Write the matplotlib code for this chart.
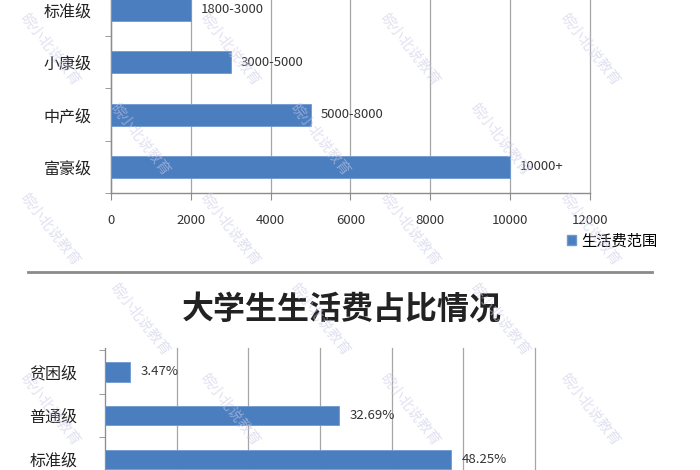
import matplotlib
matplotlib.use("Agg")
import matplotlib.pyplot as plt
from matplotlib.patches import Patch
from matplotlib.lines import Line2D

plt.rcParams['font.family'] = ['Noto Sans CJK SC', 'DejaVu Sans']

# ---- data ----
top_categories = ['标准级', '小康级', '中产级', '富豪级']
top_values = [2000, 3000, 5000, 10000]
top_labels = ['1800-3000', '3000-5000', '5000-8000', '10000+']
top_ticks = [0, 2000, 4000, 6000, 8000, 10000, 12000]
legend_label = '生活费范围'

bottom_title = '大学生生活费占比情况'
bottom_categories = ['贫困级', '普通级', '标准级']
bottom_values = [3.47, 32.69, 48.25]
bottom_ticks = [0, 10, 20, 30, 40, 50, 60]

watermark = '皖小北说教育'

BAR = '#4a7ebf'
GRID = '#a6a6a6'
AX = '#8c8c8c'
W, H = 700, 470

fig = plt.figure(figsize=(7, 4.7), dpi=100)
fig.patch.set_facecolor('white')

def fx(x):
    return x / W

def fy(y):
    return 1 - y / H

# ---- top chart ----
ax1 = fig.add_axes([fx(111), fy(193), fx(590) - fx(111), 193 / H])
pos1 = list(range(len(top_categories)))[::-1]
ax1.barh(pos1, top_values, height=0.42, color=BAR, edgecolor='#6f9ad0', linewidth=0.6, zorder=3)
for p, v, lab in zip(pos1, top_values, top_labels):
    ax1.text(v + 250, p, lab, va='center', ha='left', fontsize=9.5, color='#333333')
ax1.set_xlim(0, 12000)
ax1.set_ylim(-0.5, 3.19)
ax1.set_xticks(top_ticks)
ax1.set_xticklabels([str(t) for t in top_ticks], fontsize=9.5, color='#333333')
ax1.set_yticks(pos1)
ax1.set_yticklabels(top_categories, fontsize=11.5, color='#222222')
ax1.set_yticks([-0.5, 0.5, 1.5, 2.5], minor=True)
ax1.tick_params(axis='y', which='major', length=0, pad=14)
ax1.tick_params(axis='y', which='minor', length=4, color=AX)
ax1.tick_params(axis='x', length=5, color=AX, pad=10)
ax1.grid(axis='x', color=GRID, linewidth=0.9, zorder=0)
for gl in ax1.get_xgridlines():
    gl.set_clip_on(False)
for s in ['top', 'right']:
    ax1.spines[s].set_visible(False)
for s in ['left', 'bottom']:
    ax1.spines[s].set_color(AX)
    ax1.spines[s].set_linewidth(1.0)

fig.legend(handles=[Patch(facecolor=BAR, edgecolor='#6f9ad0')], labels=[legend_label],
           loc='center left', bbox_to_anchor=(fx(553), fy(241)), frameon=False,
           handlelength=0.6, handleheight=0.6, handletextpad=0.35, fontsize=11)

# separator
fig.add_artist(Line2D([fx(28), fx(652)], [fy(272), fy(272)], color='#8a8a8a', linewidth=2))

# ---- bottom chart ----
fig.text(fx(342), fy(310), bottom_title, ha='center', va='center', fontsize=23,
         fontweight='bold', color='#222222')

ax2 = fig.add_axes([fx(105), 0, fx(535) - fx(105), 122 / H])
pos2 = list(range(len(bottom_categories)))[::-1]
ax2.barh(pos2, bottom_values, height=0.44, color=BAR, edgecolor='#6f9ad0', linewidth=0.6, zorder=3)
for p, v in zip(pos2, bottom_values):
    ax2.text(v + 1.5, p, f'{v:.2f}%', va='center', ha='left', fontsize=9.5, color='#333333')
ax2.set_xlim(0, 60)
ax2.set_ylim(-0.25, 2.55)
ax2.set_xticks(bottom_ticks)
ax2.set_xticklabels([])
ax2.tick_params(axis='x', length=0)
ax2.set_yticks(pos2)
ax2.set_yticklabels(bottom_categories, fontsize=11.5, color='#222222')
ax2.set_yticks([0.5, 1.5, 2.5], minor=True)
ax2.tick_params(axis='y', which='major', length=0, pad=20)
ax2.tick_params(axis='y', which='minor', length=4, color=AX)
ax2.grid(axis='x', color=GRID, linewidth=0.9, zorder=0)
for gl in ax2.get_xgridlines():
    gl.set_clip_on(False)
for s in ['top', 'right', 'bottom']:
    ax2.spines[s].set_visible(False)
ax2.spines['left'].set_color(AX)

# ---- watermark (kept inside the canvas) ----
wm_rows = [50, 140, 230, 320, 410]
for row, yy in enumerate(wm_rows):
    off = (row % 2) * 90
    xx = 50 + off
    while xx <= 650:
        fig.text(fx(xx), fy(yy), watermark, rotation=-52, fontsize=10.5,
                 color='#c9c9e6', alpha=0.55, ha='center', va='center', zorder=10)
        xx += 180

fig.savefig('out.png', dpi=100)
